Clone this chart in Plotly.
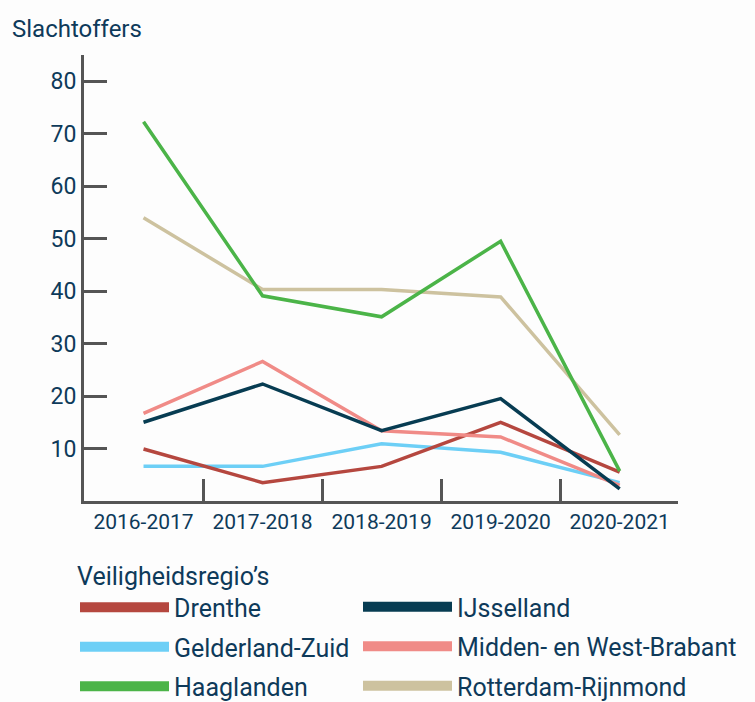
import plotly.graph_objects as go

seasons = ["2016-2017", "2017-2018", "2018-2019", "2019-2020", "2020-2021"]
y_ticks = [10, 20, 30, 40, 50, 60, 70, 80]

regions = ["Drenthe", "IJsselland", "Gelderland-Zuid",
           "Midden- en West-Brabant", "Haaglanden", "Rotterdam-Rijnmond"]

drenthe = [9.9, 3.5, 6.6, 15.0, 5.5]
ijsselland = [15.0, 22.3, 13.4, 19.5, 2.3]
gelderland_zuid = [6.6, 6.6, 10.9, 9.3, 3.5]
midden_west_brabant = [16.7, 26.6, 13.4, 12.2, 3.0]
haaglanden = [72.3, 39.1, 35.1, 49.5, 5.7]
rotterdam_rijnmond = [54.0, 40.3, 40.3, 38.9, 12.6]

series = [drenthe, ijsselland, gelderland_zuid, midden_west_brabant,
          haaglanden, rotterdam_rijnmond]
colors = ["#b5473f", "#073c52", "#6dcff6", "#f08b87", "#4bb448", "#cdc29f"]
# legend column of each region (left / right)
legend_of = ["legend", "legend2", "legend", "legend2", "legend", "legend2"]

TEXT = "#0e3a5a"
AXIS = "#555555"
FONT = "Roboto"
LEG_SIZE = 25

fig = go.Figure()

# legend proxies (thick swatches), added first so legend groups keep this order
for i in range(len(regions)):
    fig.add_trace(go.Scatter(
        x=[seasons[0]], y=[None], mode="lines", name=regions[i],
        line=dict(color=colors[i], width=14), legendgroup=regions[i],
        legend=legend_of[i], showlegend=True, hoverinfo="skip"))

draw_order = [2, 0, 3, 1, 5, 4]
for i in draw_order:
    fig.add_trace(go.Scatter(
        x=seasons, y=series[i], mode="lines", name=regions[i],
        line=dict(color=colors[i], width=3.5), showlegend=False,
        legendgroup=regions[i], legend=legend_of[i],
        hoverinfo="x+y+name"))

common_legend = dict(
    orientation="v", xref="container", yref="container",
    xanchor="left", yanchor="top", font=dict(size=LEG_SIZE, color=TEXT),
    itemwidth=89, traceorder="grouped", tracegroupgap=4,
    bgcolor="rgba(0,0,0,0)")

fig.update_layout(
    width=755, height=702,
    margin=dict(l=84, r=77, t=55, b=201, autoexpand=False),
    paper_bgcolor="#fdfdfd", plot_bgcolor="#fdfdfd",
    font=dict(family=FONT, color=TEXT, size=20),
    title=dict(text="Slachtoffers", x=12 / 755, xanchor="left",
               xref="container", y=1 - 29 / 702, yanchor="middle",
               yref="container", font=dict(size=24, color=TEXT, family=FONT)),
    showlegend=True,
    legend=dict(common_legend, x=75 / 755, y=1 - 552 / 702,
                title=dict(text="Veiligheidsregio’s", side="top",
                           font=dict(size=LEG_SIZE, color=TEXT))),
    legend2=dict(common_legend, x=358 / 755, y=1 - 584 / 702),
)

fig.update_xaxes(
    type="category", categoryorder="array", categoryarray=seasons,
    range=[-0.5, 4.49], showline=True, linewidth=3, linecolor=AXIS,
    ticks="inside", tickson="boundaries", ticklen=22, tickwidth=3,
    tickcolor=AXIS, showgrid=False, zeroline=False,
    tickfont=dict(size=21, color=TEXT))
fig.update_yaxes(
    range=[0, 85], tickvals=y_ticks, showline=True, linewidth=3,
    linecolor=AXIS, ticks="inside", ticklen=23, tickwidth=3, tickcolor=AXIS,
    showgrid=False, zeroline=False, tickfont=dict(size=23, color=TEXT))

fig.write_html("out.html", config={"displayModeBar": False},
               post_script="document.body.style.margin='0';")
